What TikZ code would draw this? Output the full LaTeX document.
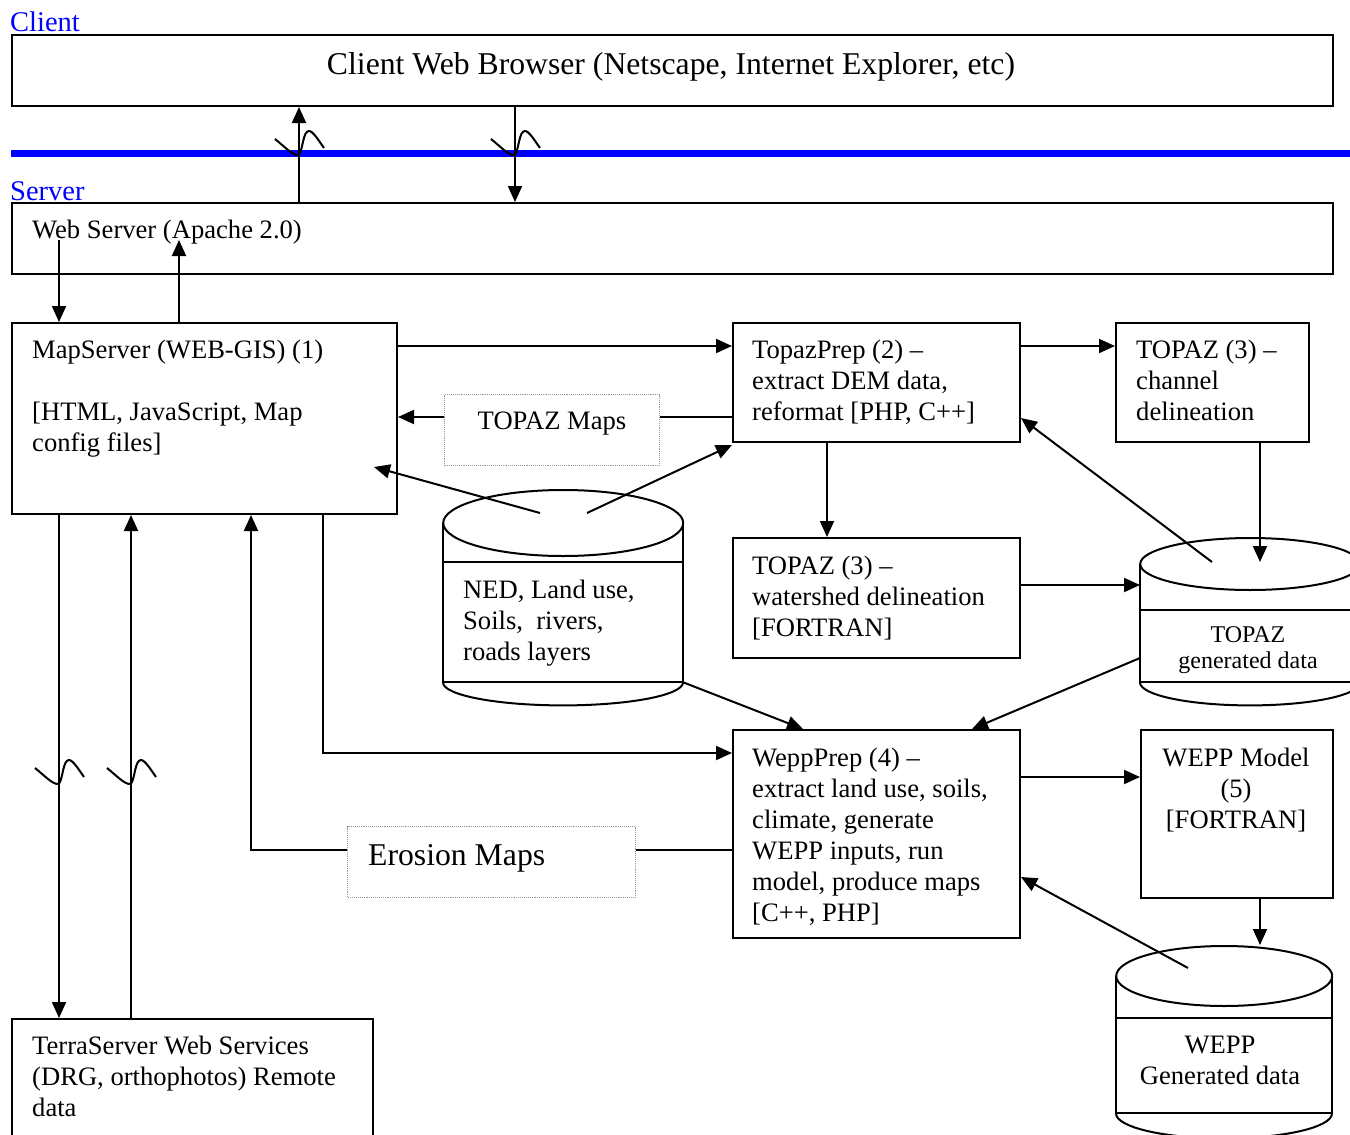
\documentclass[tikz,border=0pt]{standalone}
\usepackage{fontspec}
\setmainfont{Liberation Serif}
\usetikzlibrary{arrows.meta}
\begin{document}
\begin{tikzpicture}[x=1pt,y=-1pt,
  box/.style={draw, line width=2pt, inner sep=0pt, anchor=north west},
  dbox/.style={draw=gray!80, densely dotted, line width=1.1pt, inner sep=0pt, anchor=north west},
  cylbody/.style={inner sep=0pt, anchor=north west},
  txt/.style={inner sep=0pt, anchor=north west, align=left, font=\fontsize{26.6}{31}\selectfont},
  txtc/.style={inner sep=0pt, anchor=north, align=center, font=\fontsize{26.6}{31}\selectfont},
  big/.style={inner sep=0pt, font=\fontsize{31.7}{37}\selectfont},
  lbl/.style={inner sep=0pt, anchor=base west, text=blue, font=\fontsize{28.5}{33}\selectfont},
  ln/.style={line width=2pt},
  arr/.style={line width=2pt, -{Triangle[length=16pt,width=14pt]}},
  squig/.pic={\draw[line width=2pt] (-24,-16) .. controls (-14,-8) and (-6,1) .. (0,0)
     .. controls (4,-6) and (4,-24) .. (10,-24) .. controls (14,-24) and (20,-14) .. (25,-7);}
]
\useasboundingbox (0,0) rectangle (1350,1135);

% labels
\node[lbl] (clientlbl) at (10,31) {Client};
\node[lbl] (serverlbl) at (10,200) {Server};

% blue separator
\coordinate (sepA) at (11,153);
\coordinate (sepB) at (1350,153);
\draw[blue, line width=7pt] (sepA) -- (sepB);

% boxes
\node[box, minimum width=1321pt, minimum height=71pt] (cb) at (11,34) {};
\node[big, anchor=base] (cbt) at (671,74) {Client Web Browser (Netscape, Internet Explorer, etc)};

\node[box, minimum width=1321pt, minimum height=71pt] (ws) at (11,202) {};
\node[txt, anchor=base west] (wst) at (32,238) {Web Server (Apache 2.0)};

\node[box, minimum width=385pt, minimum height=191pt] (ms) at (11,322) {};
\node[txt] (mst) at (32,336.3) {\strut MapServer (WEB-GIS) (1)\\ \strut\\ {}[HTML, JavaScript, Map\\ config files]};

\node[box, minimum width=287pt, minimum height=119pt] (tp) at (732,322) {};
\node[txt] (tpt) at (752,336.3) {\strut TopazPrep (2) --\\ extract DEM data,\\ reformat [PHP, C++]};

\node[box, minimum width=193pt, minimum height=119pt] (tc) at (1115,322) {};
\node[txt] (tct) at (1136,336.3) {\strut TOPAZ (3) --\\ channel\\ delineation};

\node[dbox, minimum width=215pt, minimum height=71pt] (tmaps) at (444,394) {};
\node[txt, anchor=base] (tmapst) at (552,429) {TOPAZ Maps};

\node[box, minimum width=287pt, minimum height=120pt] (tw) at (732,537) {};
\node[txt] (twt) at (752,552.3) {\strut TOPAZ (3) --\\ watershed delineation\\ {}[FORTRAN]};

\node[box, minimum width=287pt, minimum height=208pt] (wp) at (732,729) {};
\node[txt] (wpt) at (752,744.3) {\strut WeppPrep (4) --\\ extract land use, soils,\\ climate, generate\\ WEPP inputs, run\\ model, produce maps\\ {}[C++, PHP]};

\node[box, minimum width=192pt, minimum height=168pt] (wm) at (1140,729) {};
\node[txtc] (wmt) at (1236,744.3) {\strut WEPP Model\\ (5)\\ {}[FORTRAN]};

\node[dbox, minimum width=288pt, minimum height=71pt] (emaps) at (347,826) {};
\node[big, anchor=base west] (emapst) at (368,865) {Erosion Maps};

\node[box, minimum width=361pt, minimum height=140pt] (ts) at (11,1018) {};
\node[txt] (tst) at (32,1032.3) {\strut TerraServer Web Services\\ (DRG, orthophotos) Remote\\ data};

% cylinders
\node[cylbody, minimum width=240pt, minimum height=159pt] (ned) at (443,523) {};
\draw[ln] (ned.north west) -- (ned.south west) -- (ned.south east) -- (ned.north east);
\draw[ln] (ned.north) ellipse [x radius=120pt, y radius=33pt];
\draw[ln] (ned.west |- 0,562) -- (ned.east |- 0,562);
\draw[ln] (ned.south west) arc[start angle=180, end angle=360, x radius=120pt, y radius=23pt];
\node[txt] (nedt) at (463,576.3) {\strut NED, Land use,\\ Soils,\ \ rivers,\\ roads layers};

\node[cylbody, minimum width=220pt, minimum height=118pt] (td) at (1140,564) {};
\draw[ln] (td.north west) -- (td.south west) -- (td.south east) -- (td.north east);
\draw[ln] (td.north) ellipse [x radius=110pt, y radius=26pt];
\draw[ln] (td.west |- 0,610) -- (td.east |- 0,610);
\draw[ln] (td.south west) arc[start angle=180, end angle=360, x radius=110pt, y radius=23pt];
\node[inner sep=0pt, anchor=north, align=center, font=\fontsize{24}{26}\selectfont] (tdt) at (1248,623.8) {\strut TOPAZ\\ generated data};

\node[cylbody, minimum width=216pt, minimum height=137pt] (wd) at (1116,976) {};
\draw[ln] (wd.north west) -- (wd.south west) -- (wd.south east) -- (wd.north east);
\draw[ln] (wd.north) ellipse [x radius=108pt, y radius=30pt];
\draw[ln] (wd.west |- 0,1018) -- (wd.east |- 0,1018);
\draw[ln] (wd.south west) arc[start angle=180, end angle=360, x radius=108pt, y radius=25pt];
\node[txtc] (wdt) at (1220,1031.3) {\strut WEPP\\ Generated data};

% connectors: client / server
\draw[arr] ([xshift=288pt]ws.north west) -- ([xshift=288pt]cb.south west);
\draw[arr] ([xshift=504pt]cb.south west) -- ([xshift=504pt]ws.north west);
\pic at (299,155) {squig};
\pic at (515,155) {squig};

% web server <-> mapserver
\draw[arr] ([xshift=48pt,yshift=-38pt]ws.north west) -- ([xshift=48pt]ms.north west);
\draw[arr] ([xshift=168pt]ms.north west) -- ([xshift=168pt,yshift=-38pt]ws.north west);

% mapserver -> topazprep -> topaz channel
\draw[arr] ([yshift=-24pt]ms.north east) -- ([yshift=-24pt]tp.north west);
\draw[arr] ([yshift=-24pt]tp.north east) -- ([yshift=-24pt]tc.north west);

% topaz maps
\draw[ln] (tp.west |- 0,417) -- (tmaps.east |- 0,417);
\draw[arr] (tmaps.west |- 0,417) -- (ms.east |- 0,417);

% NED arrows
\draw[arr] ([xshift=97pt,yshift=10pt]ned.north west) -- ([xshift=-24pt,yshift=48pt]ms.south east);
\draw[arr] ([xshift=144pt,yshift=10pt]ned.north west) -- ([yshift=-2pt]tp.south west);

% topazprep -> watershed -> topaz data
\draw[arr] ([xshift=95pt]tp.south west) -- ([xshift=95pt]tw.north west);
\draw[arr] (tw.east |- 0,585) -- (td.west |- 0,585);
\draw[arr] ([xshift=145pt]tc.south west) -- ([xshift=120pt,yshift=2pt]td.north west);
\draw[arr] ([xshift=72pt,yshift=2pt]td.north west) -- (tp.east |- 0,418);

% into wepp prep
\draw[arr] (td.west |- 0,658) -- ([xshift=240pt]wp.north west);
\draw[arr] (ned.south east) -- ([xshift=71pt]wp.north west);
\draw[arr] ([xshift=312pt]ms.south west) |- (wp.west |- 0,753);

% wepp prep -> wepp model -> wepp data
\draw[arr] (wp.east |- 0,777) -- (wm.west |- 0,777);
\draw[arr] ([xshift=120pt]wm.south west) -- ([xshift=144pt,yshift=31pt]wd.north west);
\draw[arr] ([xshift=72pt,yshift=8pt]wd.north west) -- (wp.east |- 0,877);

% erosion maps
\draw[ln] (wp.west |- 0,850) -- (emaps.east |- 0,850);
\draw[arr] (emaps.west |- 0,850) -| ([xshift=240pt]ms.south west);

% mapserver <-> terraserver
\draw[arr] ([xshift=48pt]ms.south west) -- ([xshift=48pt]ts.north west);
\draw[arr] ([xshift=120pt]ts.north west) -- ([xshift=120pt]ms.south west);
\pic at (59,784) {squig};
\pic at (131,784) {squig};
\end{tikzpicture}
\end{document}
